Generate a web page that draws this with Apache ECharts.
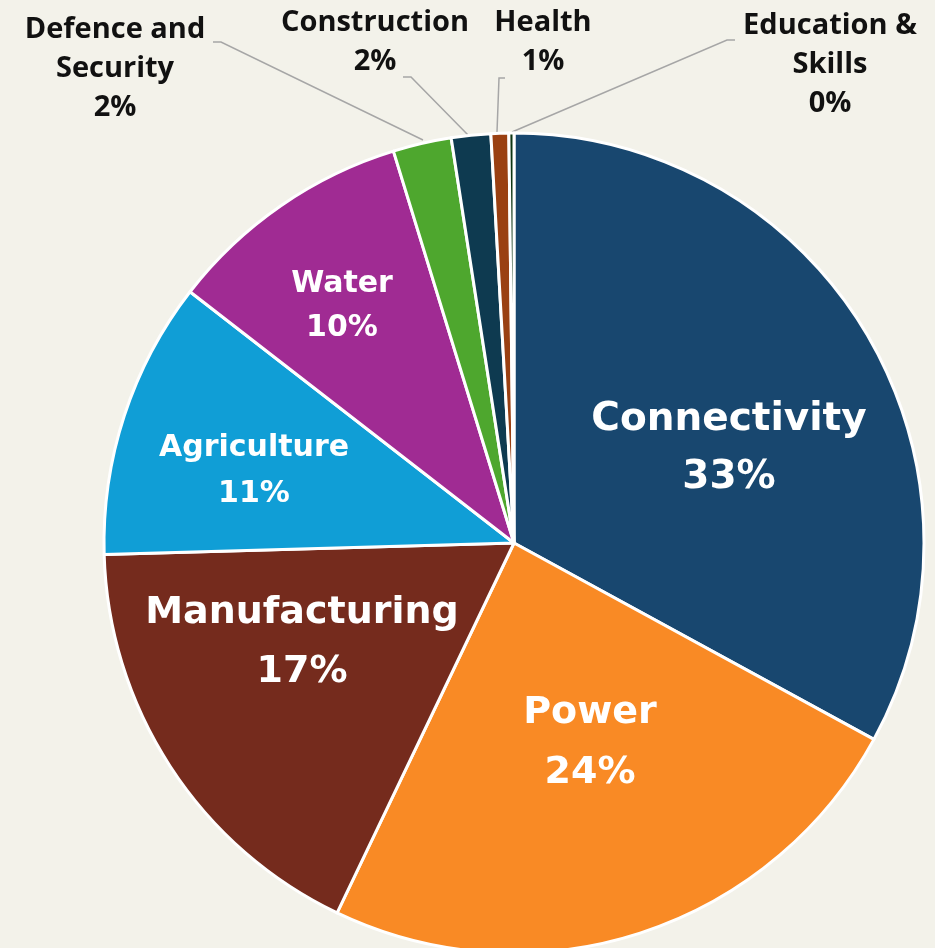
<!DOCTYPE html>
<html>
<head>
<meta charset="utf-8">
<script src="https://cdn.jsdelivr.net/npm/echarts@6/dist/echarts.min.js"></script>
<style>
html,body{margin:0;padding:0;background:#f3f2ea;}
#c{width:935px;height:948px;}
</style>
</head>
<body>
<div id="c"></div>
<script>
var categories = ['Connectivity','Power','Manufacturing','Agriculture','Water','Defence and\nSecurity','Construction','Health','Education &\nSkills'];
var values = [32.95, 24.15, 17.45, 10.95, 9.75, 2.3, 1.55, 0.7, 0.2];
var colors = ['#18476f','#f98a25','#752b1d','#109ed6','#a02b93','#4ea72e','#0e3a50','#9a4012','#0d3512'];

// label styling / placement (not data)
var inner = {
  'Connectivity': {size: 39, lh: 58, pos: [729, 449]},
  'Power': {size: 38, lh: 60, pos: [590, 743]},
  'Manufacturing': {size: 38, lh: 59, pos: [302, 643]},
  'Agriculture': {size: 30, lh: 46, pos: [254, 471]},
  'Water': {size: 30, lh: 44, pos: [342, 306]}
};
var outer = {
  'Defence and\nSecurity': {pos: [115, 69], line: [[213, 42], [221, 42], [423, 140]]},
  'Construction': {pos: [375, 42], line: [[403, 77], [411, 77], [468, 135]]},
  'Health': {pos: [543, 42], line: [[505, 78], [499, 78], [497, 132]]},
  'Education &\nSkills': {pos: [830, 65], line: [[735, 40], [727, 40], [512, 132]]}
};

var data = categories.map(function (n, i) {
  var d = {name: n, value: values[i], itemStyle: {color: colors[i]}};
  if (inner[n]) {
    d.label = {position: 'inside', fontSize: inner[n].size, lineHeight: inner[n].lh, color: '#ffffff',
      fontFamily: '"DejaVu Sans"', fontWeight: 'bold'};
    d.labelLine = {show: false};
  } else {
    d.label = {position: 'outside', fontSize: 29, lineHeight: 39, color: '#111111',
      fontFamily: '"Open Sans", sans-serif', fontWeight: 'bold'};
    d.labelLine = {show: true, lineStyle: {color: '#a6a6a6', width: 1.5}};
  }
  return d;
});

var chart = echarts.init(document.getElementById('c'), null, {renderer: 'canvas'});
chart.setOption({
  backgroundColor: '#f3f2ea',
  animation: false,
  series: [{
    type: 'pie',
    center: [514, 543],
    radius: [0, 410],
    startAngle: 90,
    clockwise: true,
    avoidLabelOverlap: false,
    itemStyle: {borderColor: '#ffffff', borderWidth: 3},
    label: {
      show: true,
      align: 'center',
      formatter: function (p) { return p.name + '\n' + Math.round(p.percent) + '%'; }
    },
    labelLayout: function (p) {
      var n = categories[p.dataIndex];
      if (inner[n]) {
        return {x: inner[n].pos[0], y: inner[n].pos[1], align: 'center', verticalAlign: 'middle'};
      }
      return {x: outer[n].pos[0], y: outer[n].pos[1], align: 'center', verticalAlign: 'middle',
        labelLinePoints: outer[n].line};
    },
    data: data
  }]
});
</script>
</body>
</html>
